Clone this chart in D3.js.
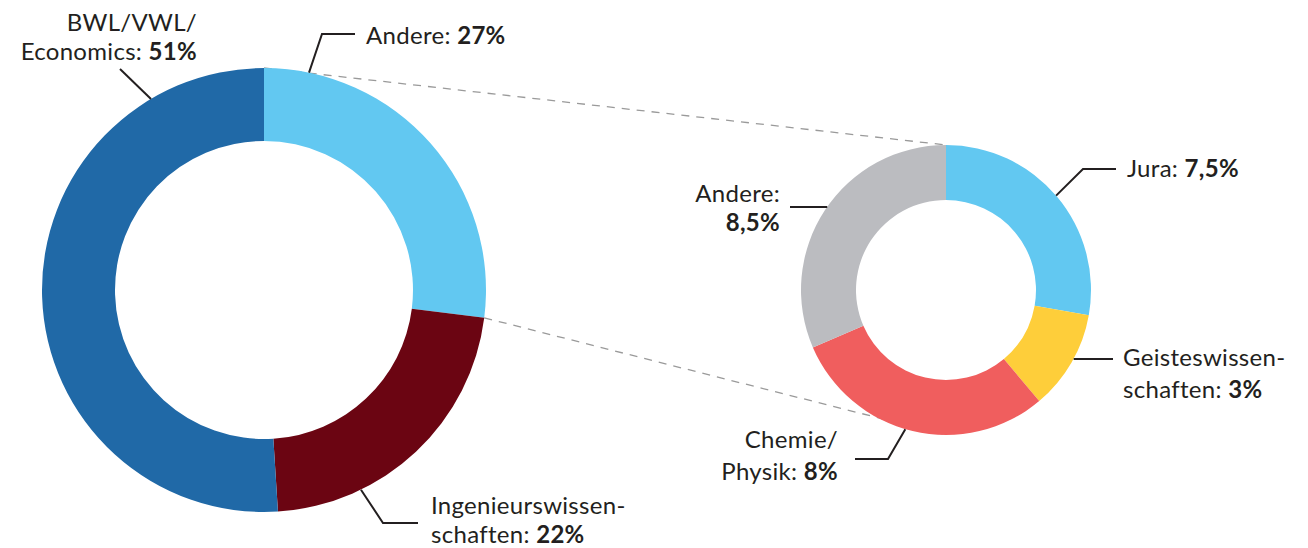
<!DOCTYPE html>
<html><head><meta charset="utf-8">
<script src="https://cdn.jsdelivr.net/npm/d3@7"></script>
<style>
html,body{margin:0;padding:0;background:#fff;}
svg text{font-family:Lato,"Noto Sans",sans-serif;font-size:24px;letter-spacing:0.3px;fill:#231f20;}
svg tspan.b{font-weight:bold;}
</style></head>
<body><svg id="c" width="1308" height="548"></svg>
<script>
// ---- data ----
const mainCategories = ["Andere", "Ingenieurswissenschaften", "BWL/VWL/Economics"];
const mainValues = [27, 22, 51];
const mainValueLabels = ["27%", "22%", "51%"];
const mainLabelLines = [["Andere: "], ["Ingenieurswissen-", "schaften: "], ["BWL/VWL/", "Economics: "]];
const subCategories = ["Jura", "Geisteswissenschaften", "Chemie/Physik", "Andere"];
const subValues = [7.5, 3, 8, 8.5];
const subValueLabels = ["7,5%", "3%", "8%", "8,5%"];
const subLabelLines = [["Jura: "], ["Geisteswissen-", "schaften: "], ["Chemie/", "Physik: "], ["Andere:", ""]];
const mainColors = ["#62c8f1", "#6b0512", "#2069a7"];
const subColors = ["#62c8f1", "#fece3a", "#f05e5e", "#bbbcc0"];

// ---- layout ----
const svg = d3.select("#c");
const M = {cx: 264, cy: 290, r: 222, ir: 149};
const S = {cx: 946, cy: 290, r: 145, ir: 90};
const deg = Math.PI / 180;

const pie = d3.pie().sort(null).value(d => d);
const mainArcs = pie(mainValues);
const subArcs = pie(subValues);

function pt(c, r, a) { return [c.cx + r * Math.sin(a), c.cy - r * Math.cos(a)]; }

// dashed connector lines (drawn beneath)
const conn = svg.append("g").attr("stroke", "#9a9a9a").attr("stroke-width", 1.3)
  .attr("stroke-dasharray", "8,7").attr("fill", "none");
const a0 = mainArcs[0];
[[a0.startAngle, 0], [a0.endAngle, Math.PI]].forEach(([ma, sa]) => {
  const p1 = pt(M, M.r, ma), p2 = pt(S, S.r, sa);
  conn.append("line").attr("x1", p1[0]).attr("y1", p1[1]).attr("x2", p2[0]).attr("y2", p2[1]);
});

const mainArc = d3.arc().innerRadius(M.ir).outerRadius(M.r);
svg.append("g").attr("transform", `translate(${M.cx},${M.cy})`)
  .selectAll("path").data(mainArcs).join("path")
  .attr("d", mainArc).attr("fill", (d, i) => mainColors[i]);

const subArc = d3.arc().innerRadius(S.ir).outerRadius(S.r);
svg.append("g").attr("transform", `translate(${S.cx},${S.cy})`)
  .selectAll("path").data(subArcs).join("path")
  .attr("d", subArc).attr("fill", (d, i) => subColors[i]);

// label layout: anchor angle on ring, elbow and end points, text position
const mainLayout = [
  {ang: 11.7, elbow: [322, 34], end: [355, 34], tx: 366, ty: 44, anchor: "start", lh: 29},
  {ang: 154.1, elbow: [383, 523], end: [418, 523], tx: 431, ty: 513.5, anchor: "start", lh: 29},
  {ang: 329.4, elbow: null, end: [120, 69], tx: 197, ty: 30.5, anchor: "end", lh: 29}
];
const subLayout = [
  {ang: 49.4, elbow: [1083, 169], end: [1116, 169], tx: 1127, ty: 177, anchor: "start", lh: 29},
  {ang: 118.3, elbow: null, end: [1113, 359], tx: 1123, ty: 366, anchor: "start", lh: 32},
  {ang: 196.3, elbow: [888, 459], end: [855, 459], tx: 838, ty: 448, anchor: "end", lh: 32},
  {ang: 305, elbow: null, end: [790, 207], tx: 780, ty: 201.5, anchor: "end", lh: 29}
];

function drawLabels(c, layout, lines, vals) {
  layout.forEach((L, i) => {
    let p0 = pt(c, c.r, L.ang * deg);
    if (!L.elbow && Math.abs(p0[1] - L.end[1]) < 8) p0 = [p0[0], L.end[1]];
    const pts = [p0];
    if (L.elbow) pts.push(L.elbow);
    pts.push(L.end);
    svg.append("path").attr("d", d3.line()(pts)).attr("fill", "none")
      .attr("stroke", "#231f20").attr("stroke-width", 2);
    const ls = lines[i];
    ls.forEach((s, k) => {
      const t = svg.append("text").attr("text-anchor", L.anchor)
        .attr("x", L.tx).attr("y", L.ty + k * L.lh);
      if (s) t.append("tspan").text(s);
      if (k === ls.length - 1) t.append("tspan").attr("class", "b").text(vals[i]);
    });
  });
}
drawLabels(M, mainLayout, mainLabelLines, mainValueLabels);
drawLabels(S, subLayout, subLabelLines, subValueLabels);
</script></body></html>
